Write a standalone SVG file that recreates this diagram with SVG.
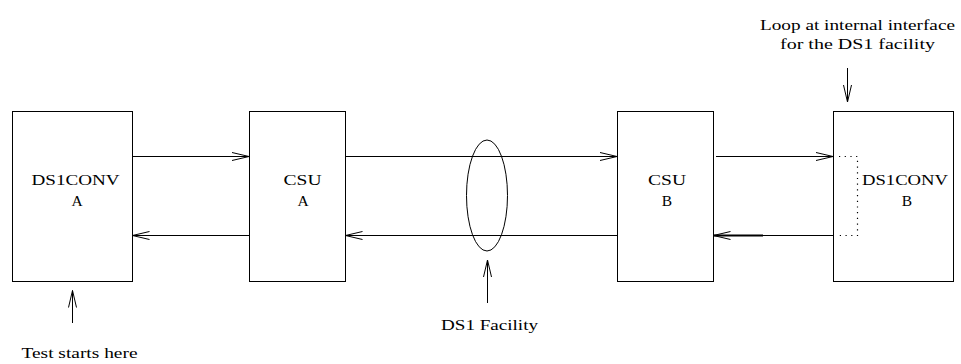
<svg xmlns="http://www.w3.org/2000/svg" width="961" height="364" viewBox="0 0 961 364">
<style>
.box{fill:none;stroke:#000;stroke-width:1}
.ln{fill:none;stroke:#000;stroke-width:1}
.dot{fill:none;stroke:#000;stroke-width:1.2;stroke-dasharray:1.2 4.5}
.t{font-family:'Liberation Serif','Times New Roman',serif;font-size:15.5px;fill:#000;text-anchor:middle}
</style>
<defs>
<marker id="ah" markerUnits="userSpaceOnUse" viewBox="-18 -5 20 10" refX="0" refY="0" markerWidth="20" markerHeight="10" orient="auto">
<path d="M-17,-4 L0,0 L-17,4" fill="none" stroke="#000" stroke-width="1"/>
</marker>
</defs>
<rect width="961" height="364" fill="#fff"/>
<g id="ds1convA">
<rect class="box" x="12.5" y="111.5" width="120" height="170"/>
<text class="t" x="75.5" y="184.5" textLength="88" lengthAdjust="spacingAndGlyphs">DS1CONV</text>
<text class="t" x="77" y="206">A</text>
</g>
<g id="csuA">
<rect class="box" x="249.5" y="111.5" width="96" height="170"/>
<text class="t" x="302.5" y="184.5" textLength="38" lengthAdjust="spacingAndGlyphs">CSU</text>
<text class="t" x="303" y="206">A</text>
</g>
<g id="csuB">
<rect class="box" x="617.5" y="111.5" width="96" height="170"/>
<text class="t" x="667" y="184.5" textLength="38" lengthAdjust="spacingAndGlyphs">CSU</text>
<text class="t" x="667" y="206">B</text>
</g>
<g id="ds1convB">
<rect class="box" x="833.5" y="111.5" width="120" height="170"/>
<text class="t" x="905" y="184.5" textLength="86" lengthAdjust="spacingAndGlyphs">DS1CONV</text>
<text class="t" x="907" y="206">B</text>
</g>
<g id="ds1facility">
<ellipse class="ln" cx="487" cy="195.5" rx="20.5" ry="55.5"/>
<text class="t" x="489.5" y="330" textLength="97" lengthAdjust="spacingAndGlyphs">DS1 Facility</text>
</g>
<g id="labels">
<text class="t" x="79.5" y="357.5" textLength="116" lengthAdjust="spacingAndGlyphs">Test starts here</text>
<text class="t" x="857.5" y="29.5" textLength="195" lengthAdjust="spacingAndGlyphs">Loop at internal interface</text>
<text class="t" x="857.5" y="48.5" textLength="155" lengthAdjust="spacingAndGlyphs">for the DS1 facility</text>
</g>
<g id="connectors">
<line class="ln" x1="132.5" y1="156.5" x2="249" y2="156.5" marker-end="url(#ah)"/>
<line class="ln" x1="249" y1="235.5" x2="132.5" y2="235.5" marker-end="url(#ah)"/>
<line class="ln" x1="345.5" y1="156.5" x2="617" y2="156.5" marker-end="url(#ah)"/>
<line class="ln" x1="617" y1="235.5" x2="345.5" y2="235.5" marker-end="url(#ah)"/>
<line class="ln" x1="716" y1="156.5" x2="833" y2="156.5" marker-end="url(#ah)"/>
<line class="ln" x1="833" y1="235.5" x2="713.5" y2="235.5" marker-end="url(#ah)"/>
<line x1="714" y1="235.5" x2="763" y2="235.5" stroke="#000" stroke-width="1.8"/>
<path class="dot" d="M839,156.5 H857.5 V235.5 H839"/>
<line class="ln" x1="72.5" y1="323" x2="72.5" y2="290.5" marker-end="url(#ah)"/>
<line class="ln" x1="487.5" y1="303" x2="487.5" y2="260" marker-end="url(#ah)"/>
<line class="ln" x1="847.5" y1="68" x2="847.5" y2="102" marker-end="url(#ah)"/>
</g>
</svg>
